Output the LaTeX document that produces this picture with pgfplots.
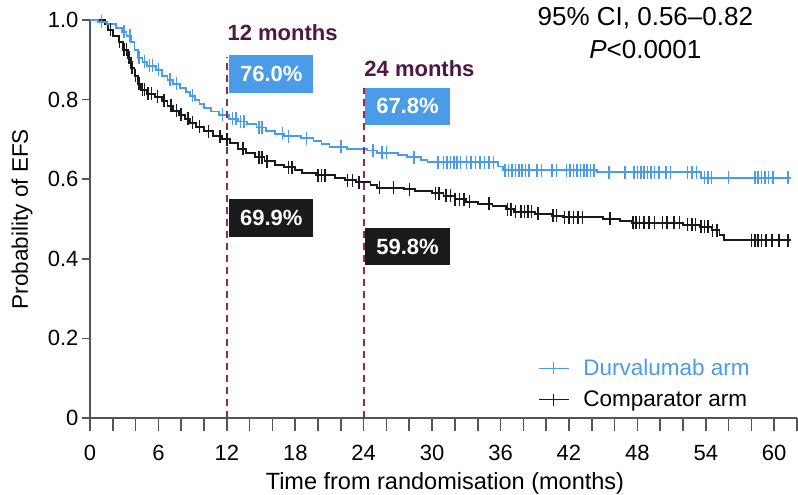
\documentclass[border=0pt]{standalone}
\usepackage{pgfplots}
\pgfplotsset{compat=1.18}
\usepackage{fontspec}
\setmainfont{Liberation Sans}
\definecolor{durv}{HTML}{4A9BE8}
\definecolor{comp}{HTML}{1A1A1A}
\definecolor{plum}{HTML}{4E1744}
\definecolor{dashc}{HTML}{8E2A5C}
\definecolor{axisgray}{HTML}{555555}
\begin{document}
\begin{tikzpicture}
\begin{axis}[
  scale only axis, width=707bp, height=398bp,
  xmin=0, xmax=62, ymin=0, ymax=1,
  axis lines=left, axis line style={-, axisgray, line width=1.6bp},
  xtick={0,6,...,60},
  minor xtick={2,4,8,10,14,16,20,22,26,28,32,34,38,40,44,46,50,52,56,58,62},
  ytick={0,0.2,0.4,0.6,0.8,1.0}, yticklabels={0,0.2,0.4,0.6,0.8,1.0},
  tick align=outside,
  major tick length=13bp, minor tick length=13bp,
  tick style={axisgray, line width=1.6bp},
  ytick style={/pgfplots/major tick length=8bp},
  /pgf/number format/assume math mode=true,
  ticklabel style={font=\fontsize{22bp}{26bp}\selectfont},
  xticklabel style={yshift=-11bp},
  yticklabel style={xshift=5bp},
  xlabel={Time from randomisation (months)}, ylabel={Probability of EFS},
  every axis x label/.style={at={(axis description cs:0.502,-0.165)}, anchor=center, font=\fontsize{23.5bp}{28bp}\selectfont},
  every axis y label/.style={at={(axis description cs:-0.096,0.5)}, rotate=90, anchor=center, font=\fontsize{22.5bp}{27bp}\selectfont},
  clip=false,
  legend style={draw=none, fill=none, at={(axis cs:39.0,0.158)}, anchor=north west,
    font=\fontsize{22.5bp}{27bp}\selectfont, row sep=10bp,
    /tikz/every odd column/.append style={column sep=12bp}},
  legend cell align=left,
  legend image code/.code={\draw[mark repeat=2,mark phase=2,#1] plot coordinates {(0bp,0bp)(15bp,0bp)(30bp,0bp)};},
]
% Comparator arm KM curve
\addplot[comp, line width=1.9bp, const plot, forget plot] coordinates {
(0,1)(1.3,0.99)(1.6,0.975)(2.0,0.96)(2.5,0.945)(2.9,0.925)(3.3,0.905)(3.6,0.88)(3.9,0.86)(4.2,0.84)(4.5,0.825)(5.0,0.815)(5.7,0.807)(6.3,0.797)(6.8,0.785)(7.3,0.772)(7.8,0.762)(8.3,0.752)(8.8,0.742)(9.3,0.732)(10.0,0.72)(10.8,0.708)(11.6,0.70)(12.3,0.69)(13.0,0.677)(13.7,0.665)(14.5,0.655)(15.3,0.645)(16.2,0.636)(17.0,0.63)(18.0,0.622)(18.6,0.615)(19.8,0.61)(21.5,0.603)(22.4,0.597)(23.3,0.592)(24.6,0.585)(25.2,0.578)(27.5,0.575)(28.5,0.57)(30.0,0.565)(31.0,0.558)(32.0,0.55)(33.0,0.543)(34.0,0.538)(35.3,0.532)(36.5,0.525)(37.2,0.518)(39.0,0.513)(40.5,0.508)(41.5,0.505)(45.0,0.50)(46.5,0.495)(47.5,0.49)(52.0,0.485)(53.5,0.48)(54.5,0.472)(55.2,0.46)(55.6,0.447)(61.5,0.447)
};
\addplot[comp, line width=1.5bp, only marks, mark=|, mark size=6.5bp, forget plot] coordinates {
(1.8,0.975)(2.6,0.945)(3.0,0.925)(3.2,0.925)(3.4,0.905)(3.7,0.88)(4.0,0.86)(4.3,0.84)(4.6,0.825)(4.8,0.825)(5.1,0.815)(5.4,0.815)(5.9,0.807)(6.5,0.797)(7.1,0.785)(7.6,0.772)(8.0,0.762)(8.6,0.752)(9.0,0.742)(9.6,0.732)(10.4,0.72)(11.4,0.708)(12.0,0.70)(13.4,0.677)(14.8,0.655)(15.1,0.655)(15.5,0.645)(17.4,0.63)(17.7,0.63)(20.0,0.61)(20.3,0.61)(20.6,0.61)(22.6,0.597)(23.0,0.597)(23.6,0.592)(25.4,0.578)(26.6,0.578)(28.0,0.575)(30.3,0.565)(30.6,0.565)(31.2,0.558)(31.6,0.558)(32.0,0.55)(32.4,0.55)(32.8,0.55)(33.3,0.543)(35.0,0.538)(36.6,0.525)(36.9,0.525)(37.3,0.518)(37.8,0.518)(38.1,0.518)(38.4,0.518)(38.7,0.518)(39.3,0.513)(40.6,0.508)(40.9,0.508)(41.6,0.505)(42.0,0.505)(42.4,0.505)(42.8,0.505)(43.2,0.505)(45.6,0.50)(47.6,0.49)(47.9,0.49)(48.2,0.49)(48.6,0.49)(49.0,0.49)(49.5,0.49)(50.2,0.49)(50.6,0.49)(51.2,0.49)(51.7,0.49)(52.4,0.485)(52.8,0.485)(53.1,0.485)(53.6,0.48)(53.9,0.48)(54.2,0.48)(54.6,0.472)(55.0,0.472)(58.0,0.447)(58.3,0.447)(58.6,0.447)(58.9,0.447)(59.3,0.447)(59.8,0.447)(60.4,0.447)(61.2,0.447)
};
% Durvalumab arm KM curve
\addplot[durv, line width=1.9bp, const plot, forget plot] coordinates {
(0,1)(0.7,0.995)(1.5,0.99)(2.3,0.98)(2.8,0.97)(3.2,0.96)(3.6,0.945)(3.9,0.925)(4.2,0.905)(4.6,0.895)(5.0,0.885)(5.8,0.875)(6.3,0.86)(6.8,0.85)(7.3,0.84)(7.9,0.83)(8.4,0.82)(8.8,0.81)(9.2,0.80)(9.6,0.79)(10.0,0.78)(10.6,0.77)(11.3,0.762)(12.2,0.752)(13.0,0.745)(13.8,0.738)(14.6,0.73)(15.4,0.722)(16.2,0.714)(17.0,0.708)(18.5,0.703)(19.6,0.697)(20.3,0.688)(21.0,0.681)(22.5,0.677)(24.3,0.672)(25.2,0.666)(27.0,0.66)(27.8,0.655)(29.0,0.648)(29.6,0.643)(35.8,0.632)(36.2,0.623)(44.5,0.618)(53.6,0.604)(61.5,0.604)
};
\addplot[durv, line width=1.5bp, only marks, mark=|, mark size=6.5bp, forget plot] coordinates {
(1.0,0.995)(3.0,0.97)(3.5,0.96)(4.3,0.905)(4.8,0.895)(5.2,0.885)(5.5,0.885)(6.0,0.875)(7.0,0.85)(7.6,0.84)(9.0,0.81)(11.6,0.762)(12.5,0.752)(12.8,0.752)(13.2,0.745)(13.5,0.745)(14.8,0.73)(15.1,0.73)(16.9,0.714)(17.4,0.708)(19.0,0.703)(22.0,0.681)(24.8,0.672)(25.6,0.666)(26.0,0.666)(28.4,0.655)(30.5,0.643)(31.0,0.643)(31.3,0.643)(31.6,0.643)(31.9,0.643)(32.2,0.643)(32.5,0.643)(33.0,0.643)(33.4,0.643)(33.8,0.643)(34.2,0.643)(34.6,0.643)(35.0,0.643)(35.4,0.643)(36.4,0.623)(36.7,0.623)(37.0,0.623)(37.3,0.623)(37.6,0.623)(37.9,0.623)(38.2,0.623)(38.5,0.623)(39.2,0.623)(39.6,0.623)(40.5,0.623)(40.9,0.623)(41.8,0.623)(42.1,0.623)(42.4,0.623)(42.7,0.623)(43.0,0.623)(43.3,0.623)(43.6,0.623)(43.9,0.623)(44.2,0.623)(45.5,0.618)(46.9,0.618)(47.7,0.618)(48.0,0.618)(48.3,0.618)(48.6,0.618)(48.9,0.618)(49.2,0.618)(49.5,0.618)(49.9,0.618)(50.5,0.618)(50.9,0.618)(52.4,0.618)(52.8,0.618)(53.2,0.618)(53.9,0.604)(54.2,0.604)(54.5,0.604)(56.0,0.604)(58.3,0.604)(58.6,0.604)(58.9,0.604)(59.2,0.604)(59.5,0.604)(59.9,0.604)(61.2,0.604)
};
% reference lines
\addplot[dashc, line width=2.2bp, dash pattern=on 7bp off 5bp, forget plot] coordinates {(12,0)(12,0.907)};
\addplot[dashc, line width=2.2bp, dash pattern=on 7bp off 5bp, forget plot] coordinates {(24,0)(24,0.829)};
% legend
\addlegendimage{durv, line width=1.4bp, mark=|, mark size=6bp}
\addlegendentry{\textcolor{durv}{Durvalumab arm}}
\addlegendimage{comp, line width=1.4bp, mark=|, mark size=6bp}
\addlegendentry{Comparator arm}
% annotations
\node[anchor=west, inner sep=0pt, text=plum, font=\bfseries\fontsize{22bp}{26bp}\selectfont] at (axis cs:12.05,0.967) {12 months};
\node[anchor=west, inner sep=0pt, text=plum, font=\bfseries\fontsize{22bp}{26bp}\selectfont] at (axis cs:24.05,0.879) {24 months};
\node[fill=durv, text=white, inner sep=0pt, minimum width=84bp, minimum height=38bp, font=\bfseries\fontsize{22bp}{26bp}\selectfont] at (axis cs:15.9,0.865) {76.0\%};
\node[fill=durv, text=white, inner sep=0pt, minimum width=85bp, minimum height=37bp, font=\bfseries\fontsize{22bp}{26bp}\selectfont] at (axis cs:27.85,0.783) {67.8\%};
\node[fill=comp, text=white, inner sep=0pt, minimum width=84bp, minimum height=38bp, font=\bfseries\fontsize{22bp}{26bp}\selectfont] at (axis cs:15.9,0.503) {69.9\%};
\node[fill=comp, text=white, inner sep=0pt, minimum width=85bp, minimum height=37bp, font=\bfseries\fontsize{22bp}{26bp}\selectfont] at (axis cs:27.85,0.431) {59.8\%};
\node[font=\fontsize{26bp}{30bp}\selectfont, inner sep=0pt] at (axis cs:48.7,1.005) {95\% CI, 0.56–0.82};
\node[font=\fontsize{26bp}{30bp}\selectfont, inner sep=0pt] at (axis cs:48.7,0.925) {\textit{P}<0.0001};
\end{axis}
\pgfresetboundingbox
\useasboundingbox (-90bp,-77bp) rectangle (708bp,418bp);
\end{tikzpicture}
\end{document}
